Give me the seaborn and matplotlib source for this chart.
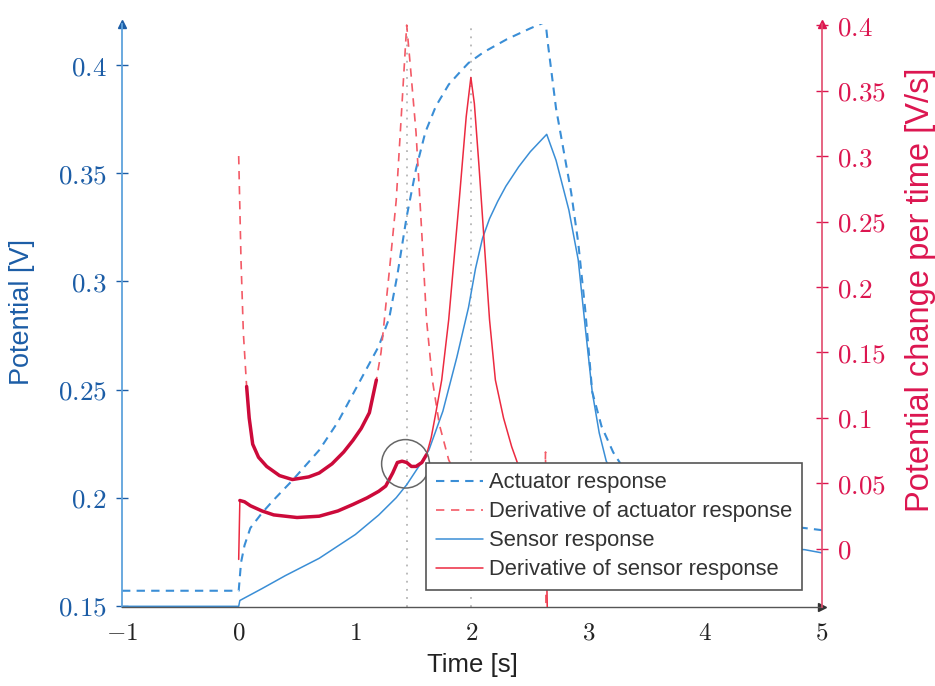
import numpy as np
import pandas as pd
import seaborn as sns
import matplotlib.pyplot as plt
from matplotlib.patches import Ellipse
from matplotlib.ticker import FuncFormatter

# Actuator / sensor potential [V] over time [s]
act_t = [-1.0, 0.0, 0.02, 0.05, 0.1, 0.2, 0.3, 0.46, 0.69, 0.85, 0.97, 1.1, 1.2, 1.29, 1.36,
         1.44, 1.52, 1.6, 1.69, 1.8, 1.9, 1.97, 2.1, 2.3, 2.5, 2.63, 2.65, 2.72, 2.8, 2.85,
         2.91, 2.97, 3.03, 3.11, 3.21, 3.4, 3.8, 4.3, 4.85, 5.0]
act_v = [0.157, 0.157, 0.170, 0.178, 0.186, 0.193, 0.199, 0.208, 0.222, 0.235, 0.247, 0.260,
         0.270, 0.283, 0.303, 0.330, 0.352, 0.369, 0.381, 0.391, 0.397, 0.401, 0.406, 0.412,
         0.417, 0.420, 0.410, 0.380, 0.356, 0.341, 0.318, 0.287, 0.249, 0.233, 0.221, 0.205,
         0.194, 0.189, 0.186, 0.185]

sen_t = [-1.0, 0.0, 0.01, 0.2, 0.4, 0.69, 1.0, 1.2, 1.35, 1.44, 1.55, 1.63, 1.75, 1.87, 1.97,
         2.03, 2.09, 2.15, 2.22, 2.29, 2.4, 2.5, 2.64, 2.72, 2.83, 2.91, 2.97, 3.03, 3.09,
         3.15, 3.3, 3.6, 4.0, 4.5, 4.85, 5.0]
sen_v = [0.1498, 0.1498, 0.1525, 0.158, 0.164, 0.172, 0.183, 0.192, 0.200, 0.206, 0.215,
         0.222, 0.240, 0.265, 0.288, 0.306, 0.320, 0.329, 0.337, 0.344, 0.353, 0.360, 0.368,
         0.356, 0.333, 0.310, 0.279, 0.249, 0.230, 0.217, 0.200, 0.187, 0.181, 0.177, 0.176,
         0.1745]

# Derivatives [V/s]
dact_t = [0.0, 0.02, 0.04, 0.068, 0.09, 0.12, 0.17, 0.24, 0.35, 0.46, 0.6, 0.69, 0.8, 0.9,
          0.98, 1.05, 1.12, 1.18, 1.22, 1.26, 1.3, 1.35, 1.4, 1.44, 1.47, 1.52, 1.57, 1.61,
          1.66, 1.72, 1.8, 1.9, 2.1, 2.4, 2.62, 2.63, 2.64, 3.2]
dact_v = [0.300, 0.220, 0.165, 0.124, 0.100, 0.080, 0.070, 0.063, 0.056, 0.053, 0.055, 0.058,
          0.065, 0.074, 0.083, 0.092, 0.104, 0.129, 0.150, 0.185, 0.220, 0.266, 0.340, 0.400,
          0.370, 0.318, 0.240, 0.175, 0.129, 0.095, 0.068, 0.050, 0.040, 0.035, 0.033, 0.074,
          -0.300, -0.300]

dsen_t = [0.0, 0.01, 0.05, 0.1, 0.2, 0.3, 0.5, 0.69, 0.85, 0.98, 1.1, 1.2, 1.26, 1.32, 1.36,
          1.40, 1.44, 1.48, 1.52, 1.57, 1.61, 1.65, 1.69, 1.74, 1.80, 1.89, 1.95, 1.99, 2.02,
          2.06, 2.15, 2.2, 2.27, 2.34, 2.38, 2.45, 2.55, 2.63, 2.66, 2.8, 3.0]
dsen_v = [-0.008, 0.037, 0.036, 0.033, 0.029, 0.026, 0.024, 0.025, 0.029, 0.034, 0.039,
          0.044, 0.048, 0.058, 0.066, 0.067, 0.066, 0.063, 0.063, 0.066, 0.072, 0.085, 0.104,
          0.129, 0.175, 0.266, 0.330, 0.360, 0.340, 0.292, 0.175, 0.129, 0.100, 0.078, 0.068,
          0.050, 0.035, 0.028, -0.120, -0.200, -0.450]

# noisy stretches of the measured derivatives (drawn thicker)
dact_noisy = (0.068, 1.18)
dsen_noisy = (0.01, 1.61)

peak_times = [1.44, 1.99]          # dotted markers
circle_t, circle_v = 1.43, 0.065   # highlighted bump on sensor derivative

left_ticks = [0.15, 0.2, 0.25, 0.3, 0.35, 0.4]
right_ticks = [0, 0.05, 0.1, 0.15, 0.2, 0.25, 0.3, 0.35, 0.4]
x_ticks = [-1, 0, 1, 2, 3, 4, 5]

blue = "#3a8ed6"
blue_dark = "#1c5da6"
blue_spine = "#5ea2dc"
red = "#ec2a40"
red_dash = "#f35a66"
crimson = "#cc0a3a"
red_text = "#dc1650"

sns.set_style("white")
plt.rcParams["font.family"] = ["Liberation Sans", "DejaVu Sans"]
plt.rcParams["mathtext.fontset"] = "cm"

fig = plt.figure(figsize=(9.35, 6.86), dpi=100)
ax = fig.add_axes([0.1305, 0.1152, 0.7487, 0.8498])
ax2 = ax.twinx()

act = pd.DataFrame({"t": act_t, "v": act_v})
sen = pd.DataFrame({"t": sen_t, "v": sen_v})
dact = pd.DataFrame({"t": dact_t, "v": dact_v})
dsen = pd.DataFrame({"t": dsen_t, "v": dsen_v})

for t in peak_times:
    ax.axvline(t, color="#b5b5b5", ls=(0, (1, 3.5)), lw=1.3, zorder=0)

sns.lineplot(data=act, x="t", y="v", ax=ax, estimator=None, sort=False,
             color=blue, lw=1.5, linestyle=(0, (4, 3)))
h_act = ax.lines[-1]
sns.lineplot(data=sen, x="t", y="v", ax=ax, estimator=None, sort=False,
             color=blue, lw=1.1)
h_sen = ax.lines[-1]

sns.lineplot(data=dact, x="t", y="v", ax=ax2, estimator=None, sort=False,
             color=red_dash, lw=1.2, linestyle=(0, (5, 4)))
h_dact = ax2.lines[-1]
seg = dact[(dact.t >= dact_noisy[0]) & (dact.t <= dact_noisy[1])]
sns.lineplot(data=seg, x="t", y="v", ax=ax2, estimator=None, sort=False,
             color=crimson, lw=2.5)

sns.lineplot(data=dsen, x="t", y="v", ax=ax2, estimator=None, sort=False,
             color=red, lw=1.1)
h_dsen = ax2.lines[-1]
seg = dsen[(dsen.t >= dsen_noisy[0]) & (dsen.t <= dsen_noisy[1])]
sns.lineplot(data=seg, x="t", y="v", ax=ax2, estimator=None, sort=False,
             color=crimson, lw=2.5)

ax2.add_patch(Ellipse((circle_t, circle_v), 0.41, 0.037, fill=False,
                      ec="#666666", lw=1.1, zorder=5))

ax.set_xlim(-1, 5)
ax.set_ylim(0.1495, 0.419)
ax2.set_ylim(-0.0443, 0.4008)

cm_fmt = FuncFormatter(lambda v, pos: r"$\mathrm{" + f"{v:g}" + "}$")
ax.set_xticks(x_ticks)
ax.set_yticks(left_ticks)
ax2.set_yticks(right_ticks)
for a in (ax, ax2):
    a.xaxis.set_major_formatter(cm_fmt)
    a.yaxis.set_major_formatter(cm_fmt)

ax.tick_params(axis="x", direction="inout", length=6, width=0.8, color="#888888",
               labelcolor="#222222", labelsize=18, pad=7)
ax.tick_params(axis="y", direction="inout", length=8, width=1, colors=blue_dark,
               labelsize=19.5, pad=7)
ax2.tick_params(axis="y", direction="inout", length=8, width=1, colors=red_text,
                labelsize=19.5, pad=7)

for s in ("top", "right"):
    ax.spines[s].set_visible(False)
for s in ("top", "left", "bottom"):
    ax2.spines[s].set_visible(False)
ax.spines["left"].set_color(blue_spine)
ax.spines["left"].set_linewidth(1.3)
ax.spines["bottom"].set_color("#555555")
ax.spines["bottom"].set_linewidth(1.0)
ax2.spines["right"].set_color("#e24a6c")
ax2.spines["right"].set_linewidth(1.2)

# arrow heads on the axes
ax.plot(0, 1, marker="^", ms=6, color=blue_dark, transform=ax.transAxes, clip_on=False)
ax.plot(1, 0, marker=">", ms=6, color="#333333", transform=ax.transAxes, clip_on=False)
ax2.plot(1, 1, marker="^", ms=6, color=red_text, transform=ax2.transAxes, clip_on=False)

ax.set_xlabel("Time [s]", fontsize=18.5, color="#222222", labelpad=6)
ax.set_ylabel("Potential [V]", fontsize=19.5, color=blue_dark)
ax.yaxis.set_label_coords(-0.124, 0.506)
ax2.set_ylabel("Potential change per time [V/s]", fontsize=23.5, color=red_text)
ax2.yaxis.set_label_coords(1.118, 0.544)

leg = ax2.legend([h_act, h_dact, h_sen, h_dsen],
                 ["Actuator response", "Derivative of actuator response",
                  "Sensor response", "Derivative of sensor response"],
                 loc="lower right", bbox_to_anchor=(0.971, 0.029), borderaxespad=0,
                 fontsize=15.8, frameon=True, fancybox=False, framealpha=1,
                 edgecolor="#555555", handlelength=2.15, handletextpad=0.25,
                 labelspacing=0.36, borderpad=0.45)
leg.get_frame().set_linewidth(1.2)
for txt in leg.get_texts():
    txt.set_color("#333333")
leg.set_zorder(10)

fig.savefig("out.png", dpi=100)
